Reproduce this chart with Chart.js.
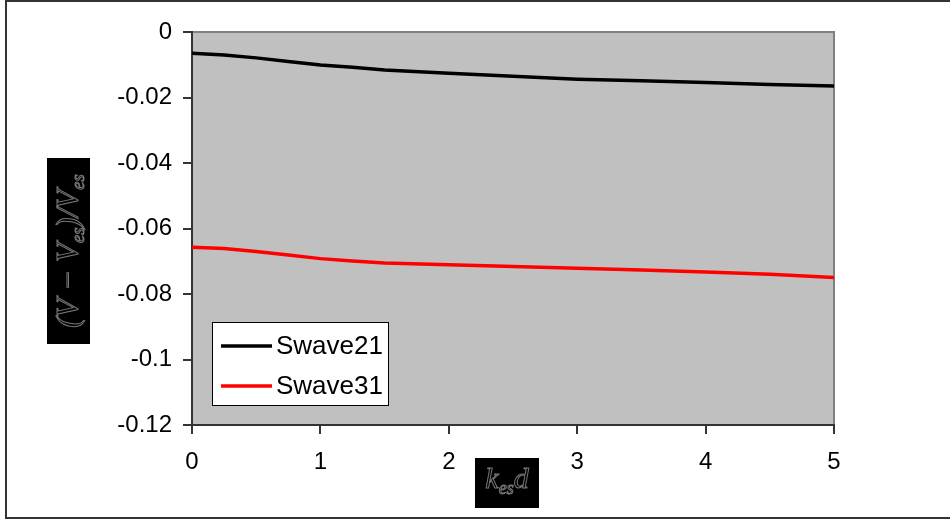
<!DOCTYPE html>
<html><head><meta charset="utf-8">
<script src="https://cdn.jsdelivr.net/npm/chart.js@4"></script>
<style>html,body{margin:0;padding:0;background:#fff}#wrap{width:950px;height:521px;position:relative}</style>
</head><body><div id="wrap"><canvas id="c" width="950" height="521"></canvas></div>
<script>
const xValues = [0, 0.25, 0.5, 0.75, 1, 1.25, 1.5, 2, 2.5, 3, 3.5, 4, 4.5, 5];
const swave21 = [-0.0065, -0.0070, -0.0079, -0.0090, -0.0101, -0.0108, -0.0116, -0.0126, -0.0135, -0.0144, -0.0149, -0.0154, -0.0160, -0.0165];
const swave31 = [-0.0657, -0.0661, -0.0670, -0.0681, -0.0692, -0.0699, -0.0705, -0.0711, -0.0716, -0.0721, -0.0727, -0.0733, -0.0740, -0.0750];
const seriesNames = ['Swave21', 'Swave31'];
const seriesColors = ['#000000', '#ff0000'];
const xTickLabels = ['0', '1', '2', '3', '4', '5'];
const yTickLabels = ['-0.12', '-0.1', '-0.08', '-0.06', '-0.04', '-0.02', '0'];
const yTitleParts = [['(V \u2212 V', false], ['es', true], [')/V', false], ['es', true]];
const xTitleParts = [['k', false], ['es', true], ['d', false]];

const FONT = '"Liberation Sans", Arial, sans-serif';

function drawParts(ctx, parts, size) {
  let w = 0;
  const widths = parts.map(([t, sub]) => {
    ctx.font = 'italic ' + (sub ? size * 0.6 : size) + 'px "Liberation Serif", serif';
    const m = ctx.measureText(t).width; w += m; return m;
  });
  let x = -w / 2;
  parts.forEach(([t, sub], i) => {
    ctx.font = 'italic ' + (sub ? size * 0.6 : size) + 'px "Liberation Serif", serif';
    ctx.strokeText(t, x, sub ? size * 0.3 : 0);
    x += widths[i];
  });
}

const decor = {
  id: 'decor',
  beforeDraw(chart) {
    const ctx = chart.ctx, a = chart.chartArea;
    ctx.save();
    ctx.fillStyle = '#fff';
    ctx.fillRect(0, 0, chart.width, chart.height);
    ctx.strokeStyle = '#333';
    ctx.lineWidth = 2;
    ctx.beginPath();
    ctx.moveTo(960, 1); ctx.lineTo(6, 1); ctx.lineTo(6, 518); ctx.lineTo(960, 518);
    ctx.stroke();
    ctx.fillStyle = '#c0c0c0';
    ctx.fillRect(a.left, a.top, a.right - a.left, a.bottom - a.top);
    ctx.strokeStyle = '#808080';
    ctx.lineWidth = 2;
    ctx.beginPath();
    ctx.moveTo(a.left, a.top); ctx.lineTo(a.right, a.top); ctx.lineTo(a.right, a.bottom);
    ctx.stroke();
    ctx.restore();
  },
  afterDraw(chart) {
    const ctx = chart.ctx;
    ctx.save();
    // legend
    ctx.fillStyle = '#fff';
    ctx.fillRect(212, 322, 176, 83);
    ctx.strokeStyle = '#000';
    ctx.lineWidth = 1;
    ctx.strokeRect(212.5, 322.5, 176, 83);
    const ys = [346, 386];
    chart.data.datasets.forEach((ds, i) => {
      ctx.strokeStyle = ds.borderColor;
      ctx.lineWidth = 3.5;
      ctx.beginPath(); ctx.moveTo(221, ys[i]); ctx.lineTo(272, ys[i]); ctx.stroke();
      ctx.fillStyle = '#000';
      ctx.font = '26px ' + FONT;
      ctx.textBaseline = 'middle';
      ctx.textAlign = 'left';
      ctx.fillText(ds.label, 276, ys[i] + 1);
    });
    // y title
    ctx.fillStyle = '#000';
    ctx.fillRect(47, 158, 43, 186);
    ctx.translate(70, 251);
    ctx.rotate(-Math.PI / 2);
    ctx.strokeStyle = '#777';
    ctx.lineWidth = 1;
    ctx.textBaseline = 'middle';
    ctx.textAlign = 'left';
    drawParts(ctx, yTitleParts, 31);
    ctx.setTransform(1, 0, 0, 1, 0, 0);
    // x title
    ctx.fillStyle = '#000';
    ctx.fillRect(475, 458, 64, 50);
    ctx.translate(507, 480);
    ctx.strokeStyle = '#777';
    drawParts(ctx, xTitleParts, 30);
    ctx.restore();
  }
};

new Chart(document.getElementById('c'), {
  type: 'line',
  data: {
    datasets: [
      { label: seriesNames[0], data: xValues.map((x, i) => ({ x, y: swave21[i] })), borderColor: seriesColors[0], borderWidth: 3.5, pointRadius: 0, tension: 0 },
      { label: seriesNames[1], data: xValues.map((x, i) => ({ x, y: swave31[i] })), borderColor: seriesColors[1], borderWidth: 3.5, pointRadius: 0, tension: 0 }
    ]
  },
  options: {
    responsive: false,
    animation: false,
    devicePixelRatio: 1,
    layout: { padding: { left: 0, top: 32, right: 116, bottom: 0 } },
    plugins: { legend: { display: false }, tooltip: { enabled: false } },
    scales: {
      x: {
        type: 'linear', min: 0, max: 5,
        afterFit(s) { s.height = 96; },
        ticks: { stepSize: 1, padding: 14, color: '#000', font: { size: 24, family: FONT }, maxRotation: 0,
          callback: (v) => xTickLabels[Math.round(v)] },
        grid: { drawOnChartArea: false, drawTicks: true, tickLength: 9, color: '#333', lineWidth: 2 },
        border: { display: true, color: '#333', width: 2 }
      },
      y: {
        min: -0.12, max: 0,
        afterFit(s) { s.width = 192; },
        ticks: { stepSize: 0.02, padding: 11, color: '#000', font: { size: 24, family: FONT },
          callback: (v) => yTickLabels[Math.round((v + 0.12) / 0.02)] },
        grid: { drawOnChartArea: false, drawTicks: true, tickLength: 9, color: '#333', lineWidth: 2 },
        border: { display: true, color: '#333', width: 2 }
      }
    }
  },
  plugins: [decor]
});
</script></body></html>
